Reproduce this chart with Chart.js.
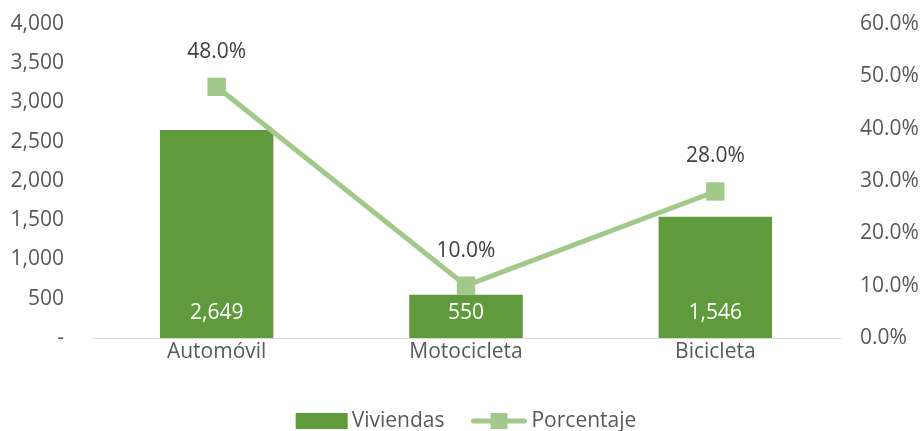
<!DOCTYPE html>
<html>
<head>
<meta charset="utf-8">
<script src="https://cdn.jsdelivr.net/npm/chart.js@4.4.1/dist/chart.umd.min.js"></script>
<style>
  html, body { margin: 0; padding: 0; background: #fff; }
</style>
</head>
<body>
<canvas id="chart" width="922" height="431"></canvas>
<script>
// Datos
const categories = ['Automóvil', 'Motocicleta', 'Bicicleta'];
const viviendas = [2649, 550, 1546];
const porcentaje = [0.48, 0.10, 0.28];
const seriesNames = ['Viviendas', 'Porcentaje'];

const barColor = '#5f9a3c';
const lineColor = '#a3c98a';
const textColor = '#595959';
const fontFamily = '"Open Sans", "Liberation Sans", sans-serif';
const fontSize = 21;

// Etiquetas de valores (barras y puntos)
const valueLabels = {
  id: 'valueLabels',
  afterDatasetsDraw(chart) {
    const ctx = chart.ctx;
    ctx.save();
    ctx.font = fontSize + 'px ' + fontFamily;
    ctx.textAlign = 'center';
    ctx.textBaseline = 'middle';
    chart.getDatasetMeta(0).data.forEach((bar, i) => {
      ctx.fillStyle = '#ffffff';
      ctx.fillText(viviendas[i].toLocaleString('en-US'), bar.x, bar.base - 25);
    });
    chart.getDatasetMeta(1).data.forEach((pt, i) => {
      ctx.fillStyle = '#404040';
      ctx.fillText((porcentaje[i] * 100).toFixed(1) + '%', pt.x, pt.y - 35);
    });
    ctx.restore();
  }
};

// Leyenda dibujada a mano (caja + línea con marcador)
const customLegend = {
  id: 'customLegend',
  afterDraw(chart) {
    const ctx = chart.ctx;
    const area = chart.chartArea;
    ctx.save();
    ctx.font = fontSize + 'px ' + fontFamily;
    ctx.textBaseline = 'middle';
    ctx.textAlign = 'left';
    const y = 421;
    const w1 = ctx.measureText(seriesNames[0]).width;
    const w2 = ctx.measureText(seriesNames[1]).width;
    const total = 52 + 4 + w1 + 27 + 55 + 5 + w2;
    let x = (area.left + area.right) / 2 - total / 2;
    ctx.fillStyle = barColor;
    ctx.fillRect(x, y - 8, 52, 16);
    x += 56;
    ctx.fillStyle = textColor;
    ctx.fillText(seriesNames[0], x, y);
    x += w1 + 27;
    ctx.strokeStyle = lineColor;
    ctx.lineWidth = 5;
    ctx.lineCap = 'round';
    ctx.beginPath();
    ctx.moveTo(x + 2, y);
    ctx.lineTo(x + 53, y);
    ctx.stroke();
    ctx.fillStyle = lineColor;
    ctx.fillRect(x + 19, y - 8, 17, 16);
    x += 60;
    ctx.fillStyle = textColor;
    ctx.fillText(seriesNames[1], x, y);
    ctx.restore();
  }
};

const config = {
  type: 'bar',
  data: {
    labels: categories,
    datasets: [
      {
        label: seriesNames[0],
        data: viviendas,
        backgroundColor: barColor,
        categoryPercentage: 1,
        barPercentage: 0.455,
        yAxisID: 'y',
        order: 1
      },
      {
        type: 'line',
        label: seriesNames[1],
        data: porcentaje,
        borderColor: lineColor,
        backgroundColor: lineColor,
        borderWidth: 5,
        pointStyle: 'rect',
        pointRadius: 13,
        pointBorderWidth: 0,
        pointBackgroundColor: lineColor,
        yAxisID: 'y1',
        order: 0
      }
    ]
  },
  options: {
    responsive: false,
    animation: false,
    layout: { padding: { top: 24, left: 0, right: 0, bottom: 0 } },
    plugins: {
      legend: { display: false },
      tooltip: { enabled: false }
    },
    scales: {
      x: {
        grid: { display: false, drawTicks: false },
        border: { display: true, color: '#d9d9d9', width: 1 },
        ticks: {
          color: textColor,
          font: { family: fontFamily, size: fontSize },
          padding: 1
        },
        afterFit(scale) { scale.height = 93; }
      },
      y: {
        position: 'left',
        min: 0,
        max: 4000,
        grid: { display: false, drawTicks: false },
        border: { display: false },
        ticks: {
          stepSize: 500,
          color: textColor,
          font: { family: fontFamily, size: fontSize },
          padding: 28,
          callback: (v) => v === 0 ? '-' : v.toLocaleString('en-US')
        },
        afterFit(scale) {
          scale.width = 92;
          scale.paddingTop = 0;
          scale.paddingBottom = 0;
        }
      },
      y1: {
        position: 'right',
        min: 0,
        max: 0.6,
        grid: { display: false, drawTicks: false },
        border: { display: false },
        ticks: {
          stepSize: 0.1,
          color: textColor,
          font: { family: fontFamily, size: fontSize },
          padding: 20,
          callback: (v) => (v * 100).toFixed(1) + '%'
        },
        afterFit(scale) {
          scale.width = 82;
          scale.paddingTop = 0;
          scale.paddingBottom = 0;
        }
      }
    }
  },
  plugins: [valueLabels, customLegend]
};

const ctx = document.getElementById('chart').getContext('2d');
const chart = new Chart(ctx, config);
</script>
</body>
</html>
